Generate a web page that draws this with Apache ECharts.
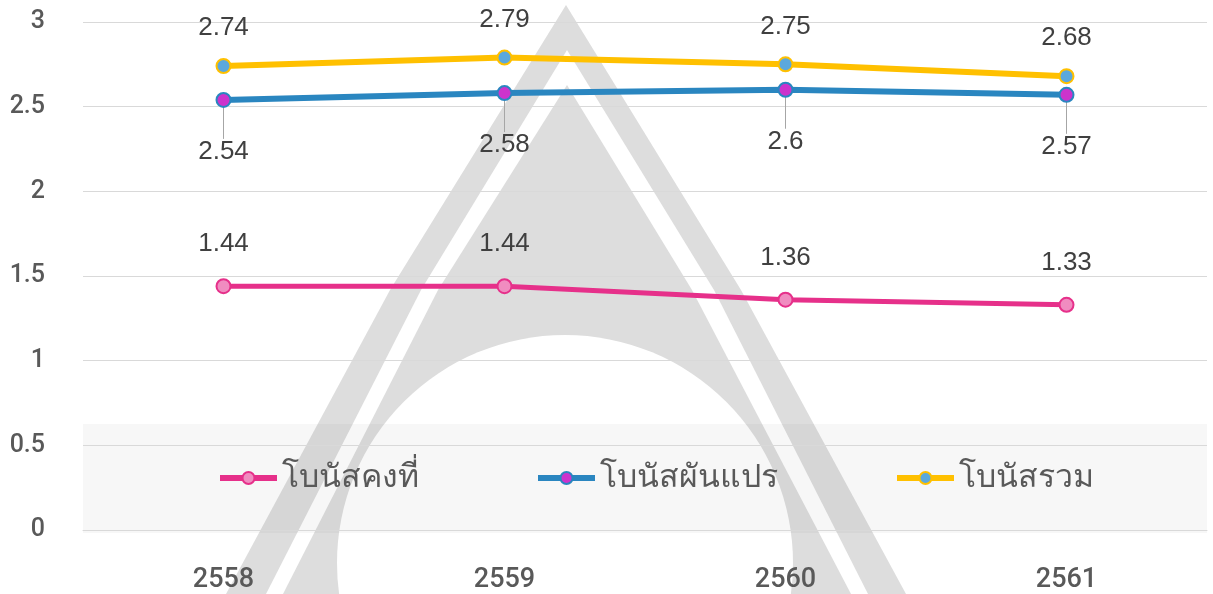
<!DOCTYPE html>
<html>
<head>
<meta charset="utf-8">
<title>โบนัส</title>
<script src="https://cdn.jsdelivr.net/npm/echarts@6/dist/echarts.min.js"></script>
<style>
    html, body { margin: 0; padding: 0; background: #fff; }
    #main { width: 1213px; height: 594px; }
</style>
</head>
<body>
<div id="main"></div>
<script>
// ข้อมูล
var years = ['2558', '2559', '2560', '2561'];
var seriesNames = ['โบนัสคงที่', 'โบนัสผันแปร', 'โบนัสรวม'];
var fixedBonus = [1.44, 1.44, 1.36, 1.33];
var variableBonus = [2.54, 2.58, 2.6, 2.57];
var totalBonus = [2.74, 2.79, 2.75, 2.68];
var yTicks = { min: 0, max: 3, interval: 0.5 };

(function(){
    var myChart = echarts.init(document.getElementById('main'))
    var labelFont = "'Liberation Sans', Arial, sans-serif"
    var thaiFont = "'Noto Sans', sans-serif"
    var wm = '#dddddd' // สีลายน้ำ

    var option = {
        animation: false,
        grid: {
            left: 83,
            right: 6,
            top: 22,
            bottom: 61
        },
        // ลายน้ำ + กรอบ legend
        graphic: [
            { type: 'polygon', z: -10, silent: true,
              shape: { points: [[566, 5], [390, 290], [226, 594], [906, 594], [741, 290]] },
              style: { fill: wm } },
            { type: 'polygon', z: -9, silent: true,
              shape: { points: [[567, 50], [421, 290], [266, 594], [868, 594], [714, 290]] },
              style: { fill: '#fff' } },
            { type: 'polygon', z: -8, silent: true,
              shape: { points: [[567, 85], [438, 290], [283, 594], [851, 594], [692, 290]] },
              style: { fill: wm } },
            { type: 'circle', z: -7, silent: true,
              shape: { cx: 565, cy: 563, r: 228 },
              style: { fill: '#fff' } },
            { type: 'rect', z: -6, silent: true,
              shape: { x: 83, y: 424, width: 1124, height: 109 },
              style: { fill: 'rgba(0,0,0,0.03)' } }
        ],
        legend: {
            left: 212,
            top: 457,
            itemWidth: 57,
            itemHeight: 15,
            itemGap: 116,
            lineStyle: { width: 6 },
            textStyle: {
                color: '#595959',
                fontSize: 32,
                fontFamily: thaiFont
            },
            data: seriesNames
        },
        xAxis: {
            type: 'category',
            data: years,
            boundaryGap: true,
            axisTick: { show: false },
            axisLine: { lineStyle: { color: '#d9d9d9' } },
            axisLabel: {
                color: '#595959',
                fontSize: 27,
                fontWeight: 500,
                fontFamily: "Roboto, sans-serif",
                margin: 37
            }
        },
        yAxis: {
            type: 'value',
            min: yTicks.min,
            max: yTicks.max,
            interval: yTicks.interval,
            axisLine: { show: false },
            axisTick: { show: false },
            axisLabel: {
                color: '#595959',
                fontSize: 25,
                fontWeight: 500,
                fontFamily: "Roboto, 'Liberation Sans', sans-serif",
                margin: 38
            },
            splitLine: { lineStyle: { color: '#d9d9d9' } }
        },
        series: [
            {
                name: seriesNames[0],
                type: 'line',
                data: fixedBonus,
                symbol: 'circle',
                symbolSize: 14,
                lineStyle: { color: '#e6308a', width: 5 },
                itemStyle: { color: '#f08cc0', borderColor: '#e6308a', borderWidth: 2 },
                label: {
                    show: true,
                    position: 'top',
                    distance: 21,
                    color: '#404040',
                    fontSize: 26,
                    fontFamily: labelFont
                }
            },
            {
                name: seriesNames[1],
                type: 'line',
                data: variableBonus,
                symbol: 'circle',
                symbolSize: 14,
                lineStyle: { color: '#2a86c0', width: 6 },
                itemStyle: { color: '#cc33cc', borderColor: '#2a86c0', borderWidth: 2 },
                label: {
                    show: true,
                    position: 'bottom',
                    distance: 10,
                    color: '#404040',
                    fontSize: 26,
                    fontFamily: labelFont
                },
                labelLayout: { dy: 21 },
                labelLine: {
                    show: true,
                    length2: 0,
                    lineStyle: { color: '#a6a6a6', width: 1 }
                }
            },
            {
                name: seriesNames[2],
                type: 'line',
                data: totalBonus,
                symbol: 'circle',
                symbolSize: 14,
                lineStyle: { color: '#ffc000', width: 6 },
                itemStyle: { color: '#5ba8dd', borderColor: '#ffc000', borderWidth: 2 },
                label: {
                    show: true,
                    position: 'top',
                    distance: 17,
                    color: '#404040',
                    fontSize: 26,
                    fontFamily: labelFont
                }
            }
        ]
    };
    myChart.setOption(option)
})();
</script>
</body>
</html>
